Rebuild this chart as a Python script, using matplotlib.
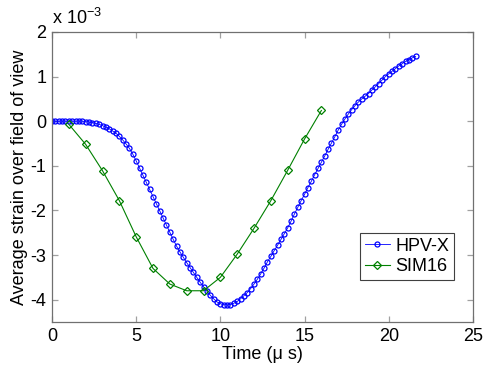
import numpy as np
import matplotlib
matplotlib.use("Agg")
import matplotlib.pyplot as plt

plt.rcParams['font.family'] = ['Liberation Sans', 'DejaVu Sans']
plt.rcParams['mathtext.fontset'] = 'custom'
plt.rcParams['mathtext.rm'] = 'Liberation Sans'
plt.rcParams['mathtext.it'] = 'Liberation Sans:italic'

# HPV-X: sampled every 0.2 us (values in units of 1e-3)
hpv_dt = 0.2
hpv_y = [
    0, 0, 0, 0, 0, 0, 0, 0, 0, 0,
    -0.01, -0.02, -0.03, -0.05, -0.07, -0.10, -0.13, -0.17, -0.22, -0.27,
    -0.34, -0.42, -0.51, -0.61, -0.74, -0.89, -1.05, -1.21, -1.37, -1.53,
    -1.69, -1.85, -2.01, -2.17, -2.33, -2.49, -2.65, -2.80, -2.93, -3.05,
    -3.17, -3.28, -3.39, -3.50, -3.61, -3.71, -3.81, -3.90, -3.98, -4.05,
    -4.09, -4.11, -4.12, -4.11, -4.08, -4.04, -3.98, -3.91, -3.84, -3.75,
    -3.65, -3.54, -3.42, -3.29, -3.15, -3.03, -2.90, -2.78, -2.65, -2.52,
    -2.39, -2.24, -2.08, -1.93, -1.78, -1.64, -1.49, -1.35, -1.20, -1.06,
    -0.92, -0.78, -0.63, -0.49, -0.35, -0.20, -0.07, 0.05, 0.16, 0.26,
    0.35, 0.43, 0.50, 0.56, 0.62, 0.70, 0.77, 0.84, 0.92, 1.00,
    1.06, 1.12, 1.18, 1.24, 1.29, 1.34, 1.38, 1.42, 1.45,
]
hpv_x = np.round(np.arange(len(hpv_y)) * hpv_dt, 2)

sim_x = [1, 2, 3, 4, 5, 6, 7, 8, 9, 10, 11, 12, 13, 14, 15, 16]
sim_y = [-0.07, -0.52, -1.11, -1.78, -2.59, -3.30, -3.65, -3.80, -3.80,
         -3.50, -2.98, -2.40, -1.78, -1.10, -0.40, 0.24]

x_ticks = [0, 5, 10, 15, 20, 25]
y_ticks = [-4, -3, -2, -1, 0, 1, 2]
scale = 1e-3

fig = plt.figure(figsize=(4.86, 3.69), dpi=100)
ax = fig.add_axes([0.107, 0.1274, 0.866, 0.786])

ax.plot(hpv_x, np.array(hpv_y) * scale, '-o', color='#0000ff', lw=0.6,
        ms=3.6, mfc='none', mew=0.9, label='HPV-X')
ax.plot(sim_x, np.array(sim_y) * scale, '-D', color='#008000', lw=0.8,
        ms=4.5, mfc='none', mew=0.9, label='SIM16')

ax.set_xlim(0, 25)
ax.set_ylim(-4.5e-3, 2e-3)
ax.set_xticks(x_ticks)
ax.set_xticklabels([str(v) for v in x_ticks])
ax.set_yticks([v * scale for v in y_ticks])
ax.set_yticklabels([str(v) for v in y_ticks])

gray = '#707070'
for s in ax.spines.values():
    s.set_color(gray)
    s.set_linewidth(0.9)
ax.tick_params(direction='in', length=4, width=0.9, color='#a0a0a0',
               top=True, right=True, labelsize=13, pad=4)

ax.set_xlabel('Time (μ s)', fontsize=13, labelpad=1)
ax.set_ylabel('Average strain over field of view', fontsize=13, labelpad=2)

ax.text(0.0, 1.015, r'x 10$^{-3}$', transform=ax.transAxes, fontsize=13,
        ha='left', va='bottom')

leg = ax.legend(loc='lower right', bbox_to_anchor=(0.955, 0.145),
                fontsize=13, frameon=True, fancybox=False, framealpha=1,
                edgecolor='#404040', handlelength=1.4, borderpad=0.25,
                labelspacing=0.2, handletextpad=0.3, borderaxespad=0)
leg.get_frame().set_linewidth(0.8)

fig.savefig('out.png', dpi=100)
